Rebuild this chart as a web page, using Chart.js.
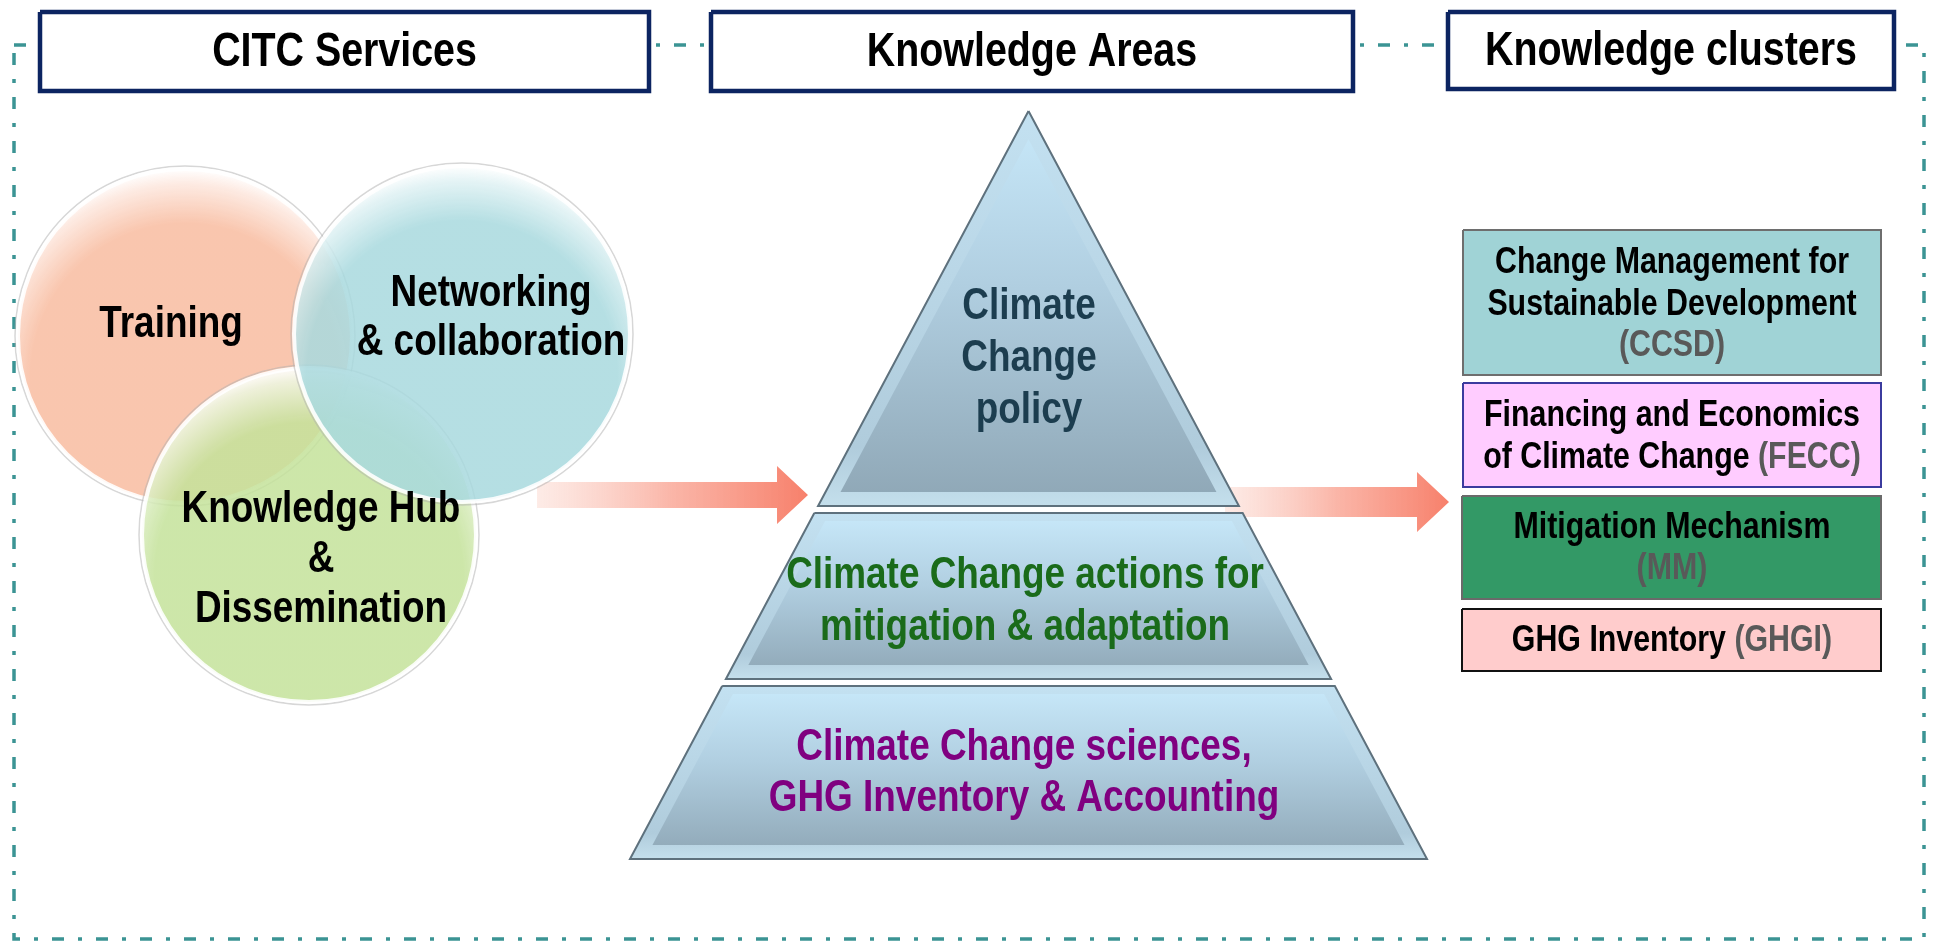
<!DOCTYPE html>
<html><head><meta charset="utf-8">
<script src="https://cdn.jsdelivr.net/npm/chart.js@4.4.0/dist/chart.umd.min.js"></script>
<style>html,body{margin:0;padding:0;background:#fff;overflow:hidden}#wrap{width:1937px;height:943px;position:relative}</style>
</head><body><div id="wrap"><canvas id="c" width="1937" height="943"></canvas></div>
<script>
// ---------- content (texts) ----------
const headerLabels = ['CITC Services', 'Knowledge Areas', 'Knowledge clusters'];
const serviceLabels = [['Training'], ['Knowledge Hub', '&', 'Dissemination'], ['Networking', '& collaboration']];
const areaLabels = [['Climate', 'Change', 'policy'], ['Climate Change actions for', 'mitigation & adaptation'], ['Climate Change sciences,', 'GHG Inventory & Accounting']];
const clusterNames = [['Change Management for', 'Sustainable Development'], ['Financing and Economics', 'of Climate Change'], ['Mitigation Mechanism'], ['GHG Inventory']];
const clusterCodes = ['(CCSD)', '(FECC)', '(MM)', '(GHGI)'];
const clusterCodeInline = [false, true, false, true];

// ---------- layout (diagram units = pixels of the 1937x943 frame) ----------
const frameBox = [14, 45, 1924, 939];
const headerBoxes = [[40, 12, 649, 91], [711, 12, 1353, 91], [1448, 12, 1894, 89]];
const circleCenters = [[185, 336], [309, 535], [462, 334]];
const circleRadii = [167, 167, 168];
const circleBase = [[249, 198, 174], [205, 230, 169], [181, 223, 227]];
const circleTextPos = [[171, 325, 49], [321, 510, 50], [491, 294, 49]];
const pyramid = { cx: 1028.5, apexY: 111, baseY: 859, baseHalf: 398.5, tiers: [[111, 506], [513, 679], [686, 859]] };
const areaTextPos = [[1029, 307, 52], [1025, 576, 52], [1024, 748, 51]];
const areaColors = ['#1c3d4f', '#1a6b1a', '#800080'];
const arrows = [
  { x0: 537, x1: 777, tip: 808, yc: 495, body: 13, head: 29 },
  { x0: 1225, x1: 1417, tip: 1449, yc: 502, body: 15, head: 30 }
];
const clusterBoxes = [[1463, 230, 1881, 375], [1463, 383, 1881, 487], [1462, 496, 1881, 599], [1462, 609, 1881, 671]];
const clusterFill = ['#a0d3d6', '#ffccff', '#339966', '#ffcccc'];
const clusterBorder = ['#6e6e6e', '#3b3b9e', '#6a6a6a', '#111111'];
const clusterTextPos = [[1672, 263, 41.5], [1672, 416, 42], [1672, 528, 41], [1672, 641, 41]];

// ---------- font detection ----------
function hasFont(name) {
  const c = document.createElement('canvas').getContext('2d');
  const s = 'abcdefghijWMil&';
  c.font = 'bold 100px monospace'; const a = c.measureText(s).width;
  c.font = 'bold 100px ' + name + ', monospace'; const b = c.measureText(s).width;
  return a !== b;
}
const NARROW = hasFont("'Liberation Sans Narrow'");
const FONT = NARROW ? "'Liberation Sans Narrow', 'Liberation Sans', sans-serif" : "'Liberation Sans', Arial, sans-serif";
const SX = NARROW ? 1 : 0.82;

// ---------- helpers ----------
function rectPts(b) { return [[b[0], b[1]], [b[2], b[1]], [b[2], b[3]], [b[0], b[3]], [b[0], b[1]]]; }
function poly(label, pts, opts) {
  return Object.assign({
    type: 'line', label, data: pts.map(p => ({ x: p[0], y: p[1] })),
    fill: 'shape', showLine: true, pointRadius: 0, pointHoverRadius: 0, borderWidth: 0, tension: 0,
    borderColor: 'transparent'
  }, opts);
}
function halfAt(y) { return pyramid.baseHalf * (y - pyramid.apexY) / (pyramid.baseY - pyramid.apexY); }
function tierPts(i, inset) {
  const [ty, by] = pyramid.tiers[i]; const cx = pyramid.cx;
  if (!inset) {
    if (i === 0) return [[cx, ty], [cx + halfAt(by), by], [cx - halfAt(by), by], [cx, ty]];
    return [[cx - halfAt(ty), ty], [cx + halfAt(ty), ty], [cx + halfAt(by), by], [cx - halfAt(by), by], [cx - halfAt(ty), ty]];
  }
  const b2 = by - 14;
  if (i === 0) {
    const ay = pyramid.apexY + inset * (pyramid.baseY - pyramid.apexY) / pyramid.baseHalf;
    return [[cx, ay], [cx + halfAt(b2) - inset, b2], [cx - halfAt(b2) + inset, b2], [cx, ay]];
  }
  const t2 = ty + 8;
  return [[cx - halfAt(t2) + inset, t2], [cx + halfAt(t2) - inset, t2], [cx + halfAt(b2) - inset, b2], [cx - halfAt(b2) + inset, b2], [cx - halfAt(t2) + inset, t2]];
}
function arrowPts(a) {
  return [[a.x0, a.yc - a.body], [a.x1, a.yc - a.body], [a.x1, a.yc - a.head], [a.tip, a.yc], [a.x1, a.yc + a.head], [a.x1, a.yc + a.body], [a.x0, a.yc + a.body], [a.x0, a.yc - a.body]];
}
function vGrad(ctx, y0, y1, stops, fallback) {
  const c = ctx.chart; if (!c.chartArea || !c.scales.y) return fallback;
  const g = c.ctx.createLinearGradient(0, c.scales.y.getPixelForValue(y0), 0, c.scales.y.getPixelForValue(y1));
  stops.forEach(s => g.addColorStop(s[0], s[1])); return g;
}
function hGrad(ctx, x0, x1, stops, fallback) {
  const c = ctx.chart; if (!c.chartArea || !c.scales.x) return fallback;
  const g = c.ctx.createLinearGradient(c.scales.x.getPixelForValue(x0), 0, c.scales.x.getPixelForValue(x1), 0);
  stops.forEach(s => g.addColorStop(s[0], s[1])); return g;
}
function rgba(c, a) { return 'rgba(' + c.map(v => Math.round(v)).join(',') + ',' + a + ')'; }
function circleFill(i) {
  const base = circleBase[i];
  const fill = base.map(v => (v - 0.15 * 255) / 0.85);
  const glow = base.map(v => v + (255 - v) * 0.6);
  return ctx => {
    const c = ctx.chart; if (!c.chartArea || !c.scales.x) return rgba(fill, 0.85);
    const [cxv, cyv] = circleCenters[i], r = circleRadii[i];
    const px = c.scales.x.getPixelForValue(cxv), py = c.scales.y.getPixelForValue(cyv + 0.25 * r);
    const g = c.ctx.createRadialGradient(px, py, 0, px, py, 1.25 * r);
    g.addColorStop(0, rgba(fill, 0.85));
    g.addColorStop(0.74, rgba(fill, 0.85));
    g.addColorStop(0.93, rgba(glow, 0.88));
    g.addColorStop(1, 'rgba(255,255,255,0.92)');
    return g;
  };
}

// ---------- datasets ----------
const datasets = [];
datasets.push(poly('frame', rectPts(frameBox), { fill: false, borderColor: '#3b9494', borderWidth: 3.5, borderDash: [12, 14, 4, 14], order: 100 }));
arrows.forEach((a, i) => datasets.push(poly('arrow' + i, arrowPts(a), {
  backgroundColor: ctx => hGrad(ctx, a.x0, a.tip, [[0, 'rgba(252,222,214,0.6)'], [0.5, 'rgba(250,175,160,0.92)'], [1, '#f7806b']], '#f8a090'),
  order: 90
})));
circleCenters.forEach((c, i) => {
  datasets.push({ type: 'bubble', label: 'ring' + i, data: [{ x: c[0], y: c[1], r: circleRadii[i] + 3 }], backgroundColor: 'transparent', borderColor: 'rgba(175,175,175,0.5)', borderWidth: 1.5, order: 85 - i * 2, hoverRadius: 0 });
  datasets.push({ type: 'bubble', label: 'circle' + i, data: [{ x: c[0], y: c[1], r: circleRadii[i] }], backgroundColor: circleFill(i), borderColor: 'rgba(255,255,255,0.9)', borderWidth: 4, order: 84 - i * 2, hoverRadius: 0 });
});
pyramid.tiers.forEach((t, i) => {
  datasets.push(poly('tierOuter' + i, tierPts(i, 0), {
    backgroundColor: ctx => vGrad(ctx, t[0], t[1], [[0, '#c3e1f1'], [0.85, '#b0ccdc'], [1, '#c4dfec']], '#b9d6e6'),
    borderColor: '#5e717d', borderWidth: 2, order: 70 - i * 2
  }));
  datasets.push(poly('tierInner' + i, tierPts(i, 15), {
    backgroundColor: ctx => vGrad(ctx, t[0], t[1], [[0, '#c8e9fa'], [0.45, '#b0cee0'], [1, '#8ea6b5']], '#a8c4d4'),
    order: 69 - i * 2
  }));
});
clusterBoxes.forEach((b, i) => datasets.push(poly('cluster' + i, rectPts(b), { backgroundColor: clusterFill[i], borderColor: clusterBorder[i], borderWidth: 2, order: 60 - i })));
headerBoxes.forEach((b, i) => datasets.push(poly('header' + i, rectPts(b), { backgroundColor: '#ffffff', borderColor: '#0c2461', borderWidth: 4.5, order: 50 - i })));

// ---------- texts ----------
const textItems = [];
headerLabels.forEach((t, i) => {
  const b = headerBoxes[i];
  textItems.push({ x: (b[0] + b[2]) / 2, y: (b[1] + b[3]) / 2 + 1, lh: 0, size: 48, color: '#000', lines: [[[t]]] });
});
serviceLabels.forEach((ls, i) => {
  const p = circleTextPos[i];
  textItems.push({ x: p[0], y: p[1], lh: p[2], size: 45, color: '#000', lines: ls.map(l => [[l]]) });
});
areaLabels.forEach((ls, i) => {
  const p = areaTextPos[i];
  textItems.push({ x: p[0], y: p[1], lh: p[2], size: 45, color: areaColors[i], lines: ls.map(l => [[l]]) });
});
clusterNames.forEach((ls, i) => {
  const p = clusterTextPos[i];
  const lines = ls.map(l => [[l, '#000']]);
  if (clusterCodeInline[i]) { const last = lines[lines.length - 1]; last[0][0] += ' '; last.push([clusterCodes[i], '#595959']); }
  else lines.push([[clusterCodes[i], '#595959']]);
  textItems.push({ x: p[0], y: p[1], lh: p[2], size: 37, color: '#000', lines });
});

const textPlugin = {
  id: 'diagramTexts',
  afterDatasetsDraw(chart) {
    const g = chart.ctx, X = v => chart.scales.x.getPixelForValue(v), Y = v => chart.scales.y.getPixelForValue(v);
    g.save(); g.textBaseline = 'middle'; g.textAlign = 'left';
    textItems.forEach(t => {
      g.font = 'bold ' + t.size + 'px ' + FONT;
      t.lines.forEach((runs, li) => {
        const y = Y(t.y + li * t.lh);
        const ws = runs.map(r => g.measureText(r[0]).width * SX);
        const tot = ws.reduce((a, b) => a + b, 0);
        let x = X(t.x) - tot / 2;
        runs.forEach((r, j) => {
          g.save(); g.translate(x, y); g.scale(SX, 1);
          g.fillStyle = r[1] || t.color; g.fillText(r[0], 0, 0); g.restore();
          x += ws[j];
        });
      });
    });
    g.restore();
  }
};

new Chart(document.getElementById('c'), {
  type: 'scatter',
  data: { datasets },
  options: {
    responsive: false, animation: false, events: [],
    layout: { padding: 0, autoPadding: false },
    plugins: { legend: { display: false }, tooltip: { enabled: false }, title: { display: false } },
    scales: {
      x: { type: 'linear', min: 0, max: 1937, display: false },
      y: { type: 'linear', min: 0, max: 943, reverse: true, display: false }
    }
  },
  plugins: [textPlugin]
});
</script></body></html>
